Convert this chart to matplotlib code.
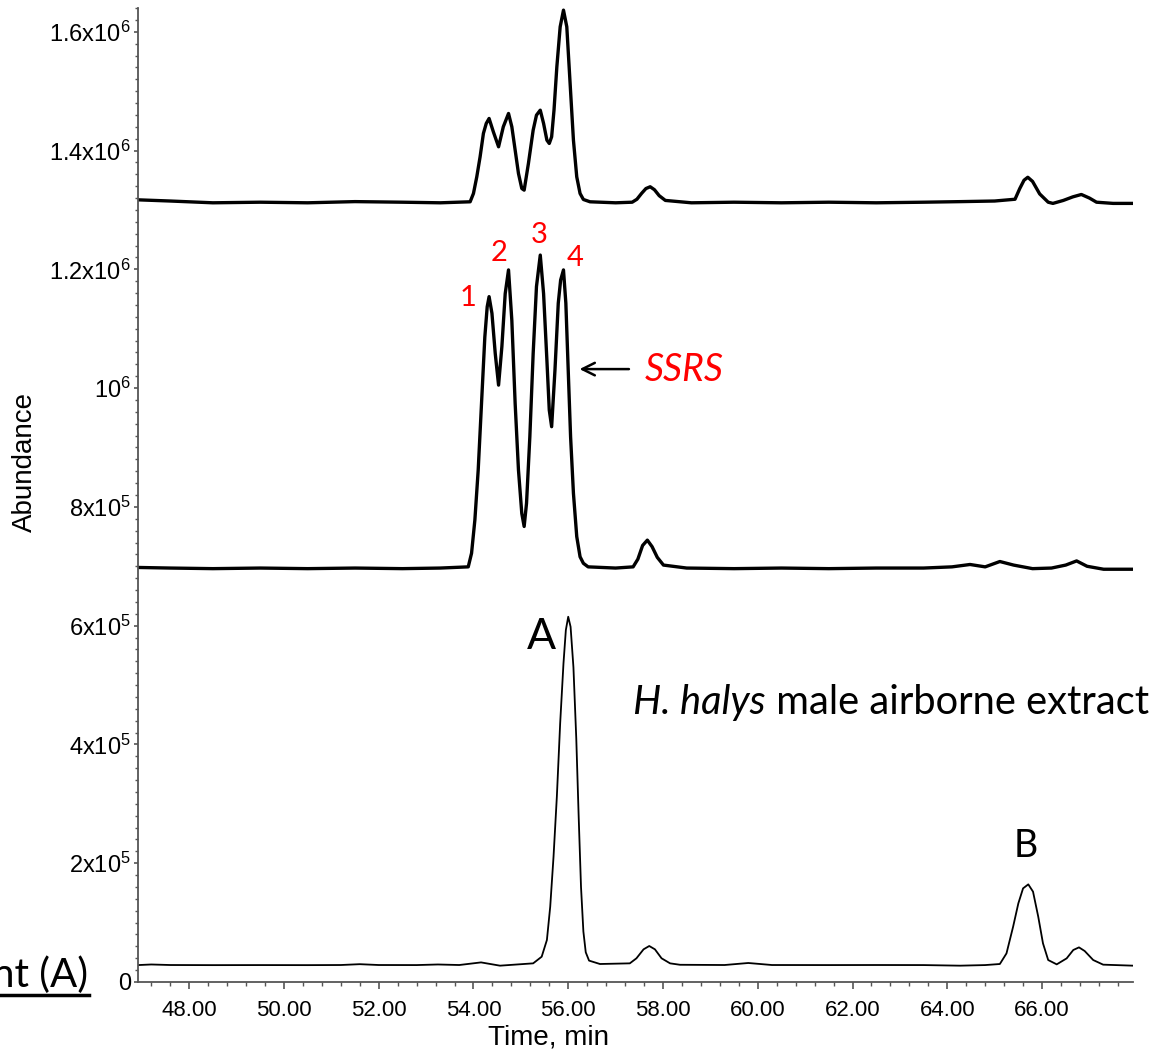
import matplotlib
matplotlib.use("Agg")
import matplotlib.pyplot as plt
from matplotlib.ticker import MultipleLocator, FixedLocator
from matplotlib.lines import Line2D

# ----------------------------- Data -----------------------------
# top trace (offset chromatogram)
top_t = [46.92, 47.6, 48.5, 49.5, 50.5, 51.5, 52.5, 53.3, 53.93, 54.00, 54.07, 54.14,
         54.21, 54.27, 54.33, 54.42, 54.53, 54.63, 54.74, 54.81, 54.88, 54.95, 55.02,
         55.07, 55.16, 55.26, 55.33, 55.41, 55.48, 55.55, 55.60, 55.65, 55.70, 55.76,
         55.83, 55.90, 55.97, 56.04, 56.11, 56.18, 56.25, 56.32, 56.46, 57.0, 57.35,
         57.45, 57.55, 57.64, 57.73, 57.82, 57.92, 58.05, 58.6, 59.5, 60.5, 61.5, 62.5,
         63.5, 64.3, 65.0, 65.43, 65.53, 65.62, 65.70, 65.80, 65.95, 66.13, 66.23,
         66.45, 66.65, 66.83, 67.0, 67.15, 67.5, 67.92]
top_v = [1317000, 1315000, 1312000, 1313000, 1312000, 1314000, 1313000, 1312000,
         1313700, 1327700, 1355700, 1389400, 1428800, 1445600, 1454000, 1431500,
         1406300, 1440000, 1462400, 1440000, 1400700, 1361400, 1336100, 1333300,
         1378200, 1434300, 1459600, 1468000, 1445600, 1417500, 1411900, 1423100,
         1468000, 1541000, 1608300, 1636400, 1608300, 1512900, 1417500, 1355700,
         1327700, 1317600, 1313700, 1312000, 1313000, 1318000, 1328000, 1336000,
         1339000, 1334000, 1324000, 1316000, 1312000, 1313000, 1312000, 1313000,
         1312000, 1313000, 1314000, 1315000, 1318000, 1336000, 1350000, 1355000,
         1348000, 1327000, 1313000, 1311000, 1316000, 1322000, 1326000, 1320000,
         1313000, 1311000, 1311000]

# middle trace (SSRS standard)
mid_t = [46.92, 47.6, 48.5, 49.5, 50.5, 51.5, 52.5, 53.3, 53.89, 53.96, 54.03, 54.10,
         54.17, 54.24, 54.29, 54.33, 54.39, 54.46, 54.53, 54.60, 54.67, 54.74, 54.81,
         54.88, 54.95, 55.02, 55.07, 55.12, 55.19, 55.26, 55.33, 55.41, 55.48, 55.55,
         55.60, 55.65, 55.72, 55.79, 55.84, 55.90, 55.95, 56.00, 56.05, 56.11, 56.18,
         56.25, 56.32, 56.42, 57.0, 57.37, 57.47, 57.57, 57.67, 57.77, 57.88, 58.01,
         58.5, 59.5, 60.5, 61.5, 62.5, 63.5, 64.1, 64.48, 64.8, 65.11, 65.4, 65.8,
         66.2, 66.5, 66.73, 66.95, 67.3, 67.92]
mid_v = [698000, 697000, 696000, 697000, 696000, 697000, 696000, 697000, 699000,
         722000, 778000, 862000, 974000, 1086000, 1137000, 1154000, 1126000, 1058000,
         1005000, 1070000, 1159000, 1199000, 1114000, 974000, 862000, 789000, 767000,
         806000, 918000, 1058000, 1171000, 1224000, 1159000, 1047000, 963000, 935000,
         1030000, 1143000, 1182000, 1199000, 1143000, 1030000, 918000, 823000, 750000,
         716000, 705000, 699000, 697000, 699000, 712000, 735000, 744000, 733000,
         715000, 702000, 697000, 696000, 697000, 696000, 697000, 697000, 699000,
         703000, 699000, 708000, 702000, 696000, 697000, 702000, 709000, 700000,
         695000, 695000]

# bottom trace (H. halys male airborne extract)
bot_t = [46.92, 47.2, 47.6, 48.5, 49.5, 50.5, 51.2, 51.6, 52.0, 52.8, 53.25, 53.7,
         54.16, 54.56, 55.26, 55.44, 55.55, 55.62, 55.69, 55.76, 55.83, 55.90, 55.95,
         56.00, 56.05, 56.11, 56.17, 56.22, 56.27, 56.32, 56.37, 56.44, 56.67, 57.30,
         57.44, 57.59, 57.71, 57.83, 57.97, 58.15, 58.36, 59.3, 59.8, 60.3, 61.5, 62.5,
         63.5, 64.27, 64.8, 65.11, 65.25, 65.39, 65.50, 65.60, 65.71, 65.81, 65.92,
         66.02, 66.13, 66.31, 66.52, 66.66, 66.78, 66.90, 67.08, 67.29, 67.92]
bot_v = [28500, 29500, 28600, 28400, 28500, 28400, 28600, 30000, 28600, 28500, 29500,
         28600, 33000, 27500, 31400, 42600, 70700, 126800, 211000, 312000, 435500,
         536500, 592600, 615000, 598000, 530000, 410000, 280000, 160000, 85000, 50000,
         36000, 30300, 31400, 39900, 55000, 60600, 55000, 39900, 31400, 29000, 28600,
         32000, 28600, 28500, 28600, 28500, 27500, 28500, 30300, 48200, 93200, 132400,
         157700, 164400, 152100, 110000, 65100, 37000, 29700, 39800, 53900, 58300,
         52200, 37000, 29200, 27500]

x_ticks = [48, 50, 52, 54, 56, 58, 60, 62, 64, 66]
y_ticks = [0, 2e5, 4e5, 6e5, 8e5, 1e6, 1.2e6, 1.4e6, 1.6e6]
y_ticklabels = ["0", "2x10$^{5}$", "4x10$^{5}$", "6x10$^{5}$", "8x10$^{5}$",
                "10$^{6}$", "1.2x10$^{6}$", "1.4x10$^{6}$", "1.6x10$^{6}$"]

peak_labels = ["1", "2", "3", "4"]
peak_label_t = [53.89, 54.54, 55.38, 56.14]
peak_label_v = [1152000, 1227000, 1258000, 1219000]

# ----------------------------- Style -----------------------------
plt.rcParams.update({
    "font.family": "Liberation Sans",
    "mathtext.fontset": "custom",
    "mathtext.rm": "Liberation Sans",
    "mathtext.it": "Liberation Sans:italic",
    "mathtext.bf": "Liberation Sans:bold",
})
ANNOT_FONT = "Lato"
SPINE_C = "#555555"

fig = plt.figure(figsize=(11.54, 10.54), dpi=100)
ax = fig.add_axes([138 / 1154, 1 - 982 / 1054, (1133 - 138) / 1154, (982 - 8) / 1054])

ax.plot(top_t, top_v, color="black", lw=2.4, solid_joinstyle="round")
ax.plot(mid_t, mid_v, color="black", lw=2.4, solid_joinstyle="round")
ax.plot(bot_t, bot_v, color="black", lw=1.3, solid_joinstyle="round")

ax.set_xlim(46.92, 67.92)
ax.set_ylim(0, 1.64e6)

# axes look
for s in ("top", "right"):
    ax.spines[s].set_visible(False)
for s in ("left", "bottom"):
    ax.spines[s].set_color(SPINE_C)
    ax.spines[s].set_linewidth(1.3)

ax.xaxis.set_major_locator(FixedLocator(x_ticks))
ax.xaxis.set_minor_locator(MultipleLocator(0.4))
ax.set_xticklabels([f"{t:.2f}" for t in x_ticks])
ax.yaxis.set_major_locator(FixedLocator(y_ticks))
ax.yaxis.set_minor_locator(MultipleLocator(2e4))
ax.set_yticklabels(y_ticklabels)

ax.tick_params(axis="x", which="major", length=5, width=1.2, color=SPINE_C,
               pad=8, labelsize=16)
ax.tick_params(axis="x", which="minor", length=3, width=1.0, color=SPINE_C)
ax.tick_params(axis="y", which="major", length=3, width=1.2, color=SPINE_C,
               pad=2, labelsize=17)
ax.tick_params(axis="y", which="minor", length=2, width=1.0, color=SPINE_C)

ax.set_xlabel("Time, min", fontsize=20)
ax.xaxis.set_label_coords(0.413, -0.044)
ax.set_ylabel("Abundance", fontsize=20)
ax.yaxis.set_label_coords(-0.1005, 0.534)

# ----------------------------- Annotations -----------------------------
for lab, t, v in zip(peak_labels, peak_label_t, peak_label_v):
    ax.text(t, v, lab, color="red", fontsize=21, family=ANNOT_FONT,
            ha="center", va="center")

ax.annotate("", xy=(56.18, 1.032e6), xytext=(57.34, 1.032e6),
            arrowprops=dict(arrowstyle="->,head_length=0.9,head_width=0.45",
                            color="black", lw=1.8))
ax.text(57.62, 1.030e6, "SSRS", color="red", fontsize=27, family=ANNOT_FONT,
        style="italic", ha="left", va="center")

ax.text(55.43, 5.81e5, "A", fontsize=31, family=ANNOT_FONT, ha="center", va="center")
ax.text(65.66, 2.29e5, "B", fontsize=27, family=ANNOT_FONT, ha="center", va="center")

t1 = ax.text(57.37, 4.71e5, "H. halys", fontsize=28.7, family=ANNOT_FONT,
             style="italic", ha="left", va="center")
fig.canvas.draw()
bb = t1.get_window_extent().transformed(ax.transData.inverted())
ax.text(bb.x1, 4.71e5, " male airborne extract", fontsize=28.7, family=ANNOT_FONT,
        ha="left", va="center", clip_on=False)

# panel label, cut off at the left edge as in the source figure
fig.text(88 / 1154, 1 - 975 / 1054, "nt (A)", fontsize=29, family=ANNOT_FONT,
         ha="right", va="center")
fig.add_artist(Line2D([0, 89 / 1154], [1 - 995 / 1054, 1 - 995 / 1054],
                      color="black", lw=2.5, transform=fig.transFigure))

fig.savefig("out.png", dpi=100)
